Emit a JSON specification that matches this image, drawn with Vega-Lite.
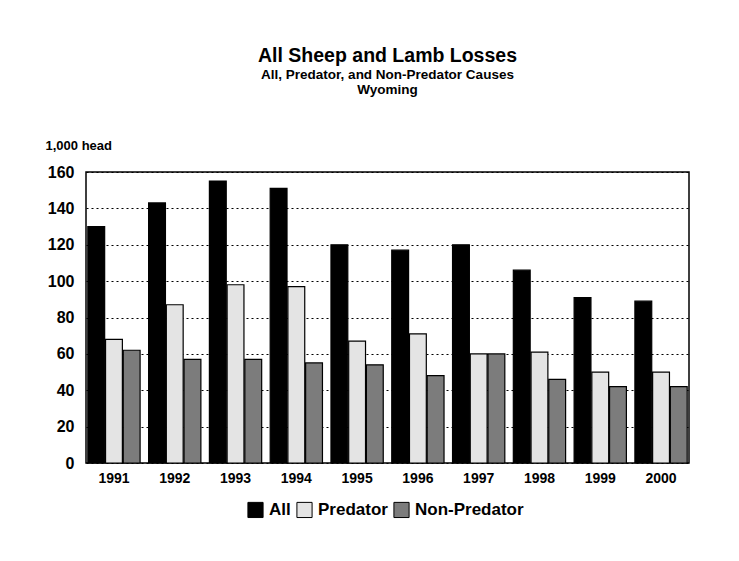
{
  "$schema": "https://vega.github.io/schema/vega-lite/v6.json",
  "autosize": {"type": "none"},
  "width": 603,
  "height": 291,
  "padding": {"left": 86, "top": 172, "right": 50, "bottom": 98},
  "background": "white",
  "title": {
    "text": "All Sheep and Lamb Losses",
    "subtitle": ["All, Predator, and Non-Predator Causes", "Wyoming"],
    "anchor": "middle",
    "frame": "group",
    "offset": 42,
    "font": "Liberation Sans",
    "fontSize": 19.5,
    "fontWeight": "bold",
    "color": "black",
    "subtitleFont": "Liberation Sans",
    "subtitleFontSize": 13.5,
    "subtitleFontWeight": "bold",
    "subtitleColor": "black",
    "subtitlePadding": 1,
    "subtitleLineHeight": 15
  },
  "data": {
    "values": [
      {"year": "1991", "cause": "All", "loss": 130},
      {"year": "1991", "cause": "Predator", "loss": 68},
      {"year": "1991", "cause": "Non-Predator", "loss": 62},
      {"year": "1992", "cause": "All", "loss": 143},
      {"year": "1992", "cause": "Predator", "loss": 87},
      {"year": "1992", "cause": "Non-Predator", "loss": 57},
      {"year": "1993", "cause": "All", "loss": 155},
      {"year": "1993", "cause": "Predator", "loss": 98},
      {"year": "1993", "cause": "Non-Predator", "loss": 57},
      {"year": "1994", "cause": "All", "loss": 151},
      {"year": "1994", "cause": "Predator", "loss": 97},
      {"year": "1994", "cause": "Non-Predator", "loss": 55},
      {"year": "1995", "cause": "All", "loss": 120},
      {"year": "1995", "cause": "Predator", "loss": 67},
      {"year": "1995", "cause": "Non-Predator", "loss": 54},
      {"year": "1996", "cause": "All", "loss": 117},
      {"year": "1996", "cause": "Predator", "loss": 71},
      {"year": "1996", "cause": "Non-Predator", "loss": 48},
      {"year": "1997", "cause": "All", "loss": 120},
      {"year": "1997", "cause": "Predator", "loss": 60},
      {"year": "1997", "cause": "Non-Predator", "loss": 60},
      {"year": "1998", "cause": "All", "loss": 106},
      {"year": "1998", "cause": "Predator", "loss": 61},
      {"year": "1998", "cause": "Non-Predator", "loss": 46},
      {"year": "1999", "cause": "All", "loss": 91},
      {"year": "1999", "cause": "Predator", "loss": 50},
      {"year": "1999", "cause": "Non-Predator", "loss": 42},
      {"year": "2000", "cause": "All", "loss": 89},
      {"year": "2000", "cause": "Predator", "loss": 50},
      {"year": "2000", "cause": "Non-Predator", "loss": 42}
    ]
  },
  "mark": {"type": "bar", "stroke": "black", "strokeWidth": 1.2},
  "encoding": {
    "x": {
      "field": "year",
      "type": "nominal",
      "scale": {"paddingInner": 0.14, "paddingOuter": 0.03},
      "axis": {
        "title": null,
        "labelAngle": 0,
        "ticks": false,
        "domain": false,
        "labelPadding": 8,
        "labelFont": "Liberation Sans",
        "labelFontSize": 14,
        "labelFontWeight": "bold",
        "labelColor": "black"
      }
    },
    "xOffset": {
      "field": "cause",
      "type": "nominal",
      "sort": ["All", "Predator", "Non-Predator"],
      "scale": {"paddingInner": 0.05}
    },
    "y": {
      "field": "loss",
      "type": "quantitative",
      "scale": {"domain": [0, 160], "nice": false},
      "axis": {
        "values": [0, 20, 40, 60, 80, 100, 120, 140, 160],
        "title": "1,000 head",
        "titleAngle": 0,
        "titleAlign": "left",
        "titleBaseline": "bottom",
        "titleX": -41,
        "titleY": -20,
        "titleFont": "Liberation Sans",
        "titleFontSize": 13,
        "titleFontWeight": "bold",
        "titleColor": "black",
        "labelFont": "Liberation Sans",
        "labelFontSize": 16,
        "labelFontWeight": "bold",
        "labelColor": "black",
        "labelPadding": 12,
        "ticks": false,
        "domain": false,
        "grid": true,
        "gridColor": "black",
        "gridDash": [2, 3],
        "gridWidth": 1.2,
        "gridOpacity": 1
      }
    },
    "fill": {
      "field": "cause",
      "type": "nominal",
      "sort": ["All", "Predator", "Non-Predator"],
      "scale": {
        "domain": ["All", "Predator", "Non-Predator"],
        "range": ["#000000", "#e4e4e4", "#7c7c7c"]
      },
      "legend": {
        "title": null,
        "orient": "none",
        "direction": "horizontal",
        "legendX": 161,
        "legendY": 329,
        "symbolType": "square",
        "symbolSize": 230,
        "symbolStrokeColor": "black",
        "symbolStrokeWidth": 1,
        "labelFont": "Liberation Sans",
        "labelFontSize": 17,
        "labelFontWeight": "bold",
        "labelColor": "black",
        "columnPadding": 3,
        "labelOffset": 5
      }
    }
  },
  "config": {
    "view": {"stroke": "black", "strokeWidth": 1.5}
  }
}
